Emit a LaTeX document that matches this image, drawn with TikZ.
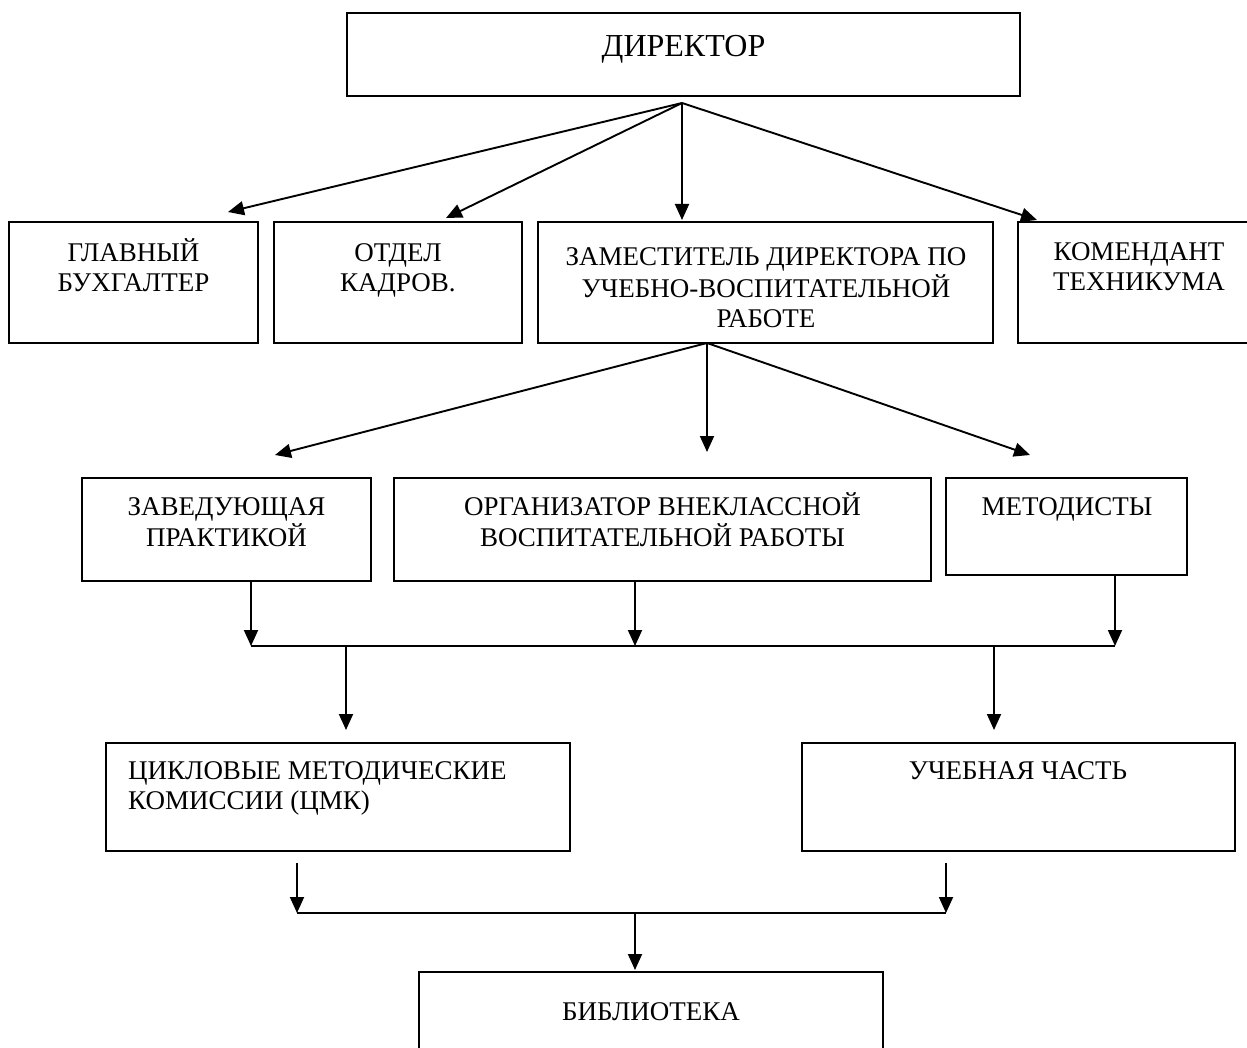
\documentclass[tikz,border=0pt]{standalone}
\usepackage{fontspec}
\setmainfont{Liberation Serif}
\usetikzlibrary{arrows.meta,calc}
\newcommand\lns[1]{\begin{tabular}[t]{@{}c@{}}#1\end{tabular}}
\newcommand\lnsl[1]{\begin{tabular}[t]{@{}l@{}}#1\end{tabular}}
\newcommand\mkbox[5]{\node[orgbox, minimum width=#4pt, minimum height=#5pt] (#1) at (#2,#3) {};}
\begin{document}
\begin{tikzpicture}[x=1pt,y=-1pt,
  orgbox/.style={draw, line width=1.8pt, inner sep=0pt, outer sep=0pt, anchor=north west},
  lbl/.style={inner sep=0pt, anchor=base, font=\fontsize{27}{30}\selectfont},
  lbll/.style={lbl, anchor=base west},
  arr/.style={-{Triangle[length=16pt,width=14pt]}, line width=1.9pt},
  bus/.style={line width=1.9pt}]
\useasboundingbox[fill=white] (0,0) rectangle (1247,1048);
% boxes
\mkbox{dir}{347}{13}{673}{83}
\mkbox{glav}{9}{222}{249}{121}
\mkbox{otd}{274}{222}{248}{121}
\mkbox{zam}{538}{222}{455}{121}
\mkbox{kom}{1018}{222}{242}{121}
\mkbox{zav}{82}{478}{289}{103}
\mkbox{org}{394}{478}{537}{103}
\mkbox{met}{946}{478}{241}{97}
\mkbox{cmk}{106}{743}{464}{108}
\mkbox{uch}{802}{743}{433}{108}
\mkbox{bib}{419}{972}{464}{100}
% texts
\node[lbl, font=\fontsize{32}{36}\selectfont] (tdir) at (683.5,57) {ДИРЕКТОР};
\node[lbl] (tglav) at (133.5,262) {\lns{ГЛАВНЫЙ\\БУХГАЛТЕР}};
\node[lbl] (totd) at (398,262) {\lns{ОТДЕЛ\\КАДРОВ.}};
\node[lbl] (tzam) at (766,266) {\lns{ЗАМЕСТИТЕЛЬ ДИРЕКТОРА ПО\\УЧЕБНО-ВОСПИТАТЕЛЬНОЙ\\РАБОТЕ}};
\node[lbl] (tkom) at (1139,261) {\lns{КОМЕНДАНТ\\ТЕХНИКУМА}};
\node[lbl] (tzav) at (226.5,515) {\lns{ЗАВЕДУЮЩАЯ\\ПРАКТИКОЙ}};
\node[lbl] (torg) at (662.5,515) {\lns{ОРГАНИЗАТОР ВНЕКЛАССНОЙ\\ВОСПИТАТЕЛЬНОЙ РАБОТЫ}};
\node[lbl] (tmet) at (1067,515) {МЕТОДИСТЫ};
\node[lbll] (tcmk) at (128,779) {\lnsl{ЦИКЛОВЫЕ МЕТОДИЧЕСКИЕ\\КОМИССИИ (ЦМК)}};
\node[lbl] (tuch) at (1018,779) {УЧЕБНАЯ ЧАСТЬ};
\node[lbl] (tbib) at (651,1020) {БИБЛИОТЕКА};
% director arrows
\coordinate (s1) at ($(dir.south)+(-1.5,7)$);
\draw[arr] (s1) -- ($(glav.north east)+(-30,-10)$);
\draw[arr] (s1) -- ($(otd.north)+(48,-4)$);
\draw[arr] (s1) -- ($(s1|-zam.north)+(0,-2)$);
\draw[arr] (s1) -- ($(kom.north west)+(19,-2)$);
% deputy arrows
\coordinate (s2) at ($(zam.south west)+(169,0)$);
\draw[arr] (s2) -- ($(zav.north)+(48.5,-23)$);
\draw[arr] (s2) -- ($(s2|-org.north)+(0,-26)$);
\draw[arr] (s2) -- ($(met.north west)+(84,-23)$);
% first bus
\coordinate (b1l) at ($(zav.south west)+(169,65)$);
\coordinate (b1r) at ($(met.south west)+(169,71)$);
\coordinate (b1m) at ($(org.south west)+(241,65)$);
\draw[arr] ($(zav.south west)+(169,1)$) -- (b1l);
\draw[arr] ($(org.south west)+(241,1)$) -- (b1m);
\draw[arr] ($(met.south west)+(169,1)$) -- (b1r);
\draw[bus] (b1l) -- (b1r);
\coordinate (b1a) at ($(b1l)+(95,0)$);
\coordinate (b1b) at ($(b1l)+(743,0)$);
\draw[arr] (b1a) -- ($(cmk.north west)+(240,-13)$);
\draw[arr] (b1b) -- ($(uch.north west)+(192,-13)$);
% second bus
\coordinate (b2l) at ($(cmk.south west)+(191,62)$);
\coordinate (b2r) at ($(uch.south west)+(144,62)$);
\draw[arr] ($(cmk.south west)+(191,12)$) -- (b2l);
\draw[arr] ($(uch.south west)+(144,12)$) -- (b2r);
\draw[bus] (b2l) -- (b2r);
\coordinate (b2m) at ($(b2l)+(338,0)$);
\draw[arr] (b2m) -- ($(bib.north west)+(216,-2)$);
\end{tikzpicture}
\end{document}
